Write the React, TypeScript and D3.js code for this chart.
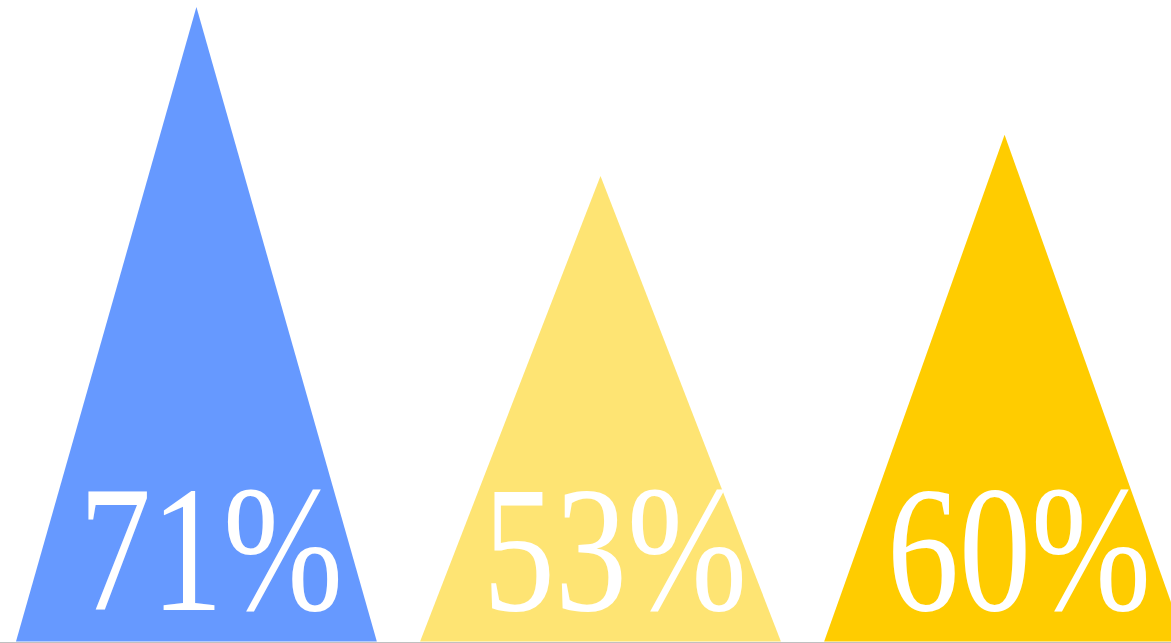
import React from "react";
import * as d3 from "d3";

const categories = ["A", "B", "C"];
const values = [71, 52.1, 56.7];
const labels = ["71%", "53%", "60%"];
const colors = ["#6699ff", "#fee473", "#ffcc00"];

const W = 1171;
const H = 643;

export default function App() {
  const x = d3
    .scaleBand<string>()
    .domain(categories)
    .range([16, 1185])
    .paddingInner(0.107)
    .paddingOuter(0);
  const y = d3
    .scaleLinear()
    .domain([0, d3.max(values) as number])
    .range([641.5, 7]);

  const tri = (i: number) => {
    const x0 = x(categories[i]) as number;
    const bw = x.bandwidth();
    const p = d3.path();
    p.moveTo(x0, y(0));
    p.lineTo(x0 + bw / 2, y(values[i]));
    p.lineTo(x0 + bw, y(0));
    p.closePath();
    return p.toString();
  };

  return (
    <svg
      width={W}
      height={H}
      style={{ position: "absolute", left: 0, top: 0, display: "block" }}
    >
      <rect width={W} height={H} fill="#ffffff" />
      {categories.map((c, i) => (
        <path key={c} d={tri(i)} fill={colors[i]} />
      ))}
      {categories.map((c, i) => {
        const cx = (x(c) as number) + x.bandwidth() / 2 + x.bandwidth() * 0.04;
        return (
          <text
            key={"t" + c}
            transform={`translate(${cx},610) scale(0.8,1)`}
            textAnchor="middle"
            fill="#ffffff"
            style={{ fontFamily: '"Liberation Serif", "Times New Roman", Times, serif' }}
            fontSize={180}
          >
            {labels[i]}
          </text>
        );
      })}
      <line x1={0} x2={W} y1={642.5} y2={642.5} stroke="#c0c0c0" strokeWidth={1} />
    </svg>
  );
}
